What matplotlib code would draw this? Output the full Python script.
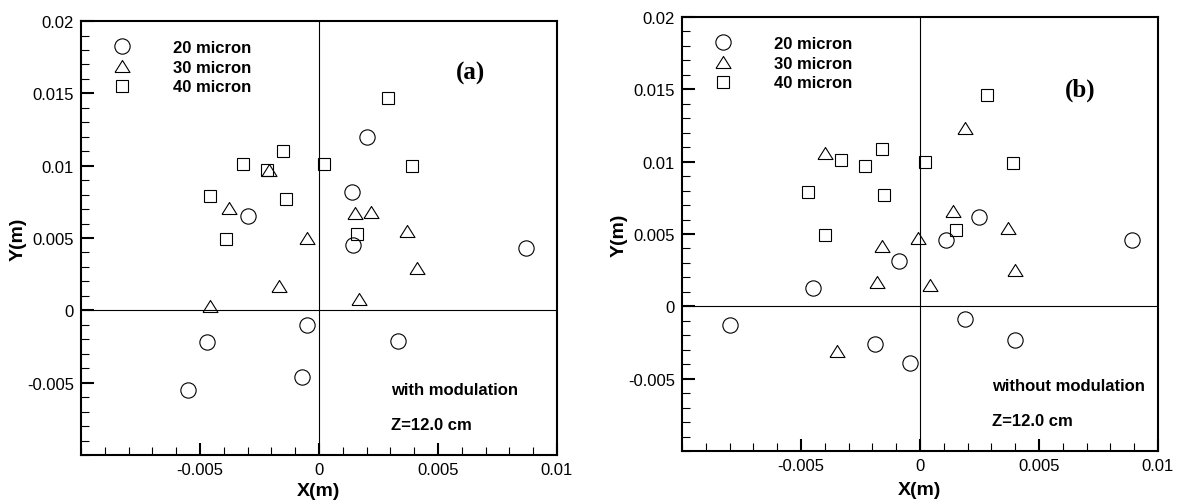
import matplotlib.pyplot as plt
from matplotlib.ticker import MultipleLocator

plt.rcParams['font.family'] = ['Liberation Sans', 'DejaVu Sans']
plt.rcParams['axes.unicode_minus'] = False

# droplet positions at Z=12.0 cm, (a) with modulation
a_x20 = [-0.0030, 0.0020, 0.00137, 0.00145, 0.0087, -0.0047, -0.0055, -0.0005, -0.0007, 0.0033]
a_y20 = [0.0065, 0.0120, 0.0082, 0.0045, 0.0043, -0.0022, -0.0055, -0.0010, -0.0046, -0.0021]
a_x30 = [-0.0038, -0.0021, -0.0005, 0.0015, 0.0022, 0.0037, 0.0041, 0.0017, -0.0017, -0.0046]
a_y30 = [0.0071, 0.0097, 0.0050, 0.0067, 0.0068, 0.0055, 0.0029, 0.0008, 0.0017, 0.0003]
a_x40 = [-0.0046, -0.0039, -0.0032, -0.0022, -0.0015, -0.0014, 0.0002, 0.0029, 0.0039, 0.0016]
a_y40 = [0.0079, 0.0049, 0.0101, 0.0097, 0.0110, 0.0077, 0.0101, 0.0147, 0.0100, 0.0053]

# (b) without modulation
b_x20 = [0.0025, 0.0011, 0.0089, -0.0009, -0.0045, -0.0080, -0.0019, -0.0004, 0.0019, 0.0040]
b_y20 = [0.0062, 0.0046, 0.0046, 0.0031, 0.0013, -0.0013, -0.0026, -0.0039, -0.0009, -0.0023]
b_x30 = [-0.0040, -0.0016, 0.0019, 0.0014, 0.0037, -0.0001, 0.0040, 0.0004, -0.0018, -0.0035]
b_y30 = [0.0106, 0.0042, 0.0123, 0.0066, 0.0054, 0.0047, 0.0025, 0.0015, 0.0017, -0.0031]
b_x40 = [-0.0047, -0.0040, -0.0033, -0.0023, -0.0016, -0.0015, 0.0002, 0.0028, 0.0039, 0.0015]
b_y40 = [0.0079, 0.0049, 0.0101, 0.0097, 0.0109, 0.0077, 0.0100, 0.0146, 0.0099, 0.0053]

labels = ['20 micron', '30 micron', '40 micron']
x_ticks = [-0.005, 0, 0.005, 0.01]
x_ticklabels = ['-0.005', '0', '0.005', '0.01']
y_ticks = [-0.005, 0, 0.005, 0.01, 0.015, 0.02]
y_ticklabels = ['-0.005', '0', '0.005', '0.01', '0.015', '0.02']

tri = [(-1, -0.8), (1, -0.8), (0, 0.8), (-1, -0.8)]
markers = ['o', tri, 's']
sizes = [11, 10.8, 8.3]


def panel(ax, series, tag, tag_pos, note, label_y):
    ax.axhline(0, color='k', lw=0.8, zorder=1)
    ax.axvline(0, color='k', lw=0.8, zorder=1)
    for (xs, ys), mk, ms, lab in zip(series, markers, sizes, labels):
        ax.plot(xs, ys, ls='none', marker=mk, ms=ms, mfc='none', mec='k',
                mew=0.8, label=lab, zorder=3)
    ax.set_xlim(-0.01, 0.01)
    ax.set_ylim(-0.01, 0.02)
    ax.set_xticks(x_ticks)
    ax.set_xticklabels(x_ticklabels)
    ax.set_yticks(y_ticks)
    ax.set_yticklabels(y_ticklabels)
    ax.xaxis.set_minor_locator(MultipleLocator(0.001))
    ax.yaxis.set_minor_locator(MultipleLocator(0.001))
    ax.tick_params(which='major', direction='in', length=9, width=1.5,
                   labelsize=12, pad=5)
    ax.tick_params(which='minor', direction='in', length=5.5, width=0.8)
    for s in ax.spines.values():
        s.set_linewidth(1.5)
    ax.set_xlabel('X(m)', fontsize=14, fontweight='bold')
    ax.set_ylabel('Y(m)', fontsize=14, fontweight='bold')
    ax.xaxis.set_label_coords(0.5, label_y)
    ax.yaxis.set_label_coords(-0.115, 0.5)
    ax.legend(loc='upper left', bbox_to_anchor=(0.051, 0.957), frameon=False,
              prop={'weight': 'bold', 'size': 12}, handlelength=2,
              handletextpad=2.05, labelspacing=0.29, borderpad=0,
              borderaxespad=0)
    ax.text(tag_pos[0], tag_pos[1], tag, transform=ax.transAxes,
            family='Liberation Serif', fontsize=18, fontweight='bold',
            ha='left', va='center')
    ax.text(0.651, 0.151, note, transform=ax.transAxes, fontsize=12,
            fontweight='bold', ha='left', va='center')
    ax.text(0.651, 0.071, 'Z=12.0 cm', transform=ax.transAxes, fontsize=12,
            fontweight='bold', ha='left', va='center')


fig = plt.figure(figsize=(11.81, 5.02), dpi=100)
ax1 = fig.add_axes([0.0686, 0.0916, 0.4030, 0.8645])
ax2 = fig.add_axes([0.5775, 0.0996, 0.4030, 0.8645])

panel(ax1, [(a_x20, a_y20), (a_x30, a_y30), (a_x40, a_y40)],
      '(a)', (0.788, 0.8825), 'with modulation', -0.062)
panel(ax2, [(b_x20, b_y20), (b_x30, b_y30), (b_x40, b_y40)],
      '(b)', (0.805, 0.834), 'without modulation', -0.069)

fig.savefig('out.png', dpi=100)
